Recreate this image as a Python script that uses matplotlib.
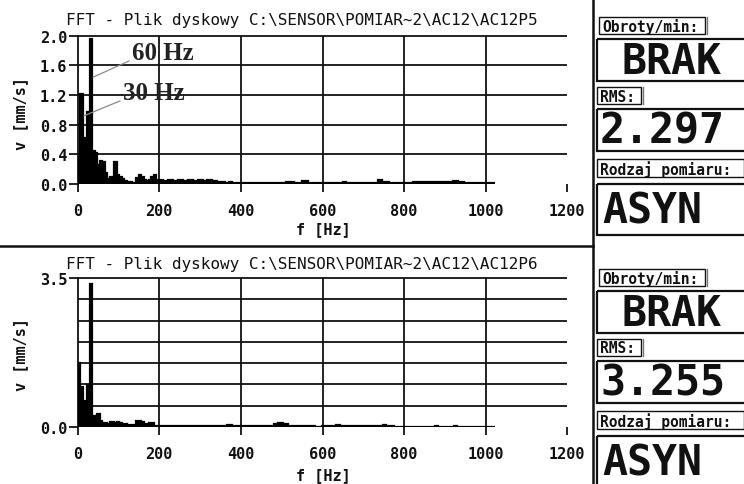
import matplotlib
matplotlib.use("Agg")
import matplotlib.pyplot as plt
from matplotlib.patches import Rectangle

# ---------------- data ----------------
top_title = r"FFT - Plik dyskowy C:\SENSOR\POMIAR~2\AC12\AC12P5"
bottom_title = r"FFT - Plik dyskowy C:\SENSOR\POMIAR~2\AC12\AC12P6"
x_label = "f [Hz]"
y_label = "v [mm/s]"
x_ticks = [0, 200, 400, 600, 800, 1000, 1200]
top_y_ticks = [0.0, 0.4, 0.8, 1.2, 1.6, 2.0]
bottom_y_ticks = [0.0, 3.5]
bottom_grid_levels = [0.5, 1.0, 1.5, 2.0, 2.5, 3.0, 3.5]

# spectrum bins: left edges (Hz, last one closes the final bin) and amplitudes (mm/s)
top_edges = [0, 6, 12, 18, 24, 30, 36, 42, 48, 54, 60, 66, 72, 78, 84, 90, 96, 102,
             108, 114, 120, 132, 144, 150, 156, 162, 168, 174, 180, 186, 192, 198,
             210, 222, 234, 246, 258, 270, 282, 294, 306, 318, 330, 342, 360, 372,
             378, 396, 420, 426, 492, 510, 530, 550, 564, 650, 657, 736, 747, 762,
             815, 823, 919, 931, 947, 1024]
top_values = [0.36, 1.21, 0.62, 0.52, 0.97, 1.96, 0.45, 0.42, 0.25, 0.31,
              0.29, 0.15, 0.07, 0.09, 0.10, 0.30, 0.12, 0.10, 0.07, 0.04,
              0.03, 0.02, 0.08, 0.12, 0.10, 0.06, 0.04, 0.06, 0.10, 0.12,
              0.06, 0.05, 0.04, 0.05, 0.04, 0.05, 0.04, 0.05, 0.04, 0.05,
              0.04, 0.05, 0.04, 0.03, 0.02, 0.03, 0.02, 0.015, 0.02, 0.015,
              0.018, 0.025, 0.015, 0.04, 0.012, 0.03, 0.008, 0.055, 0.03, 0.018,
              0.008, 0.022, 0.045, 0.028, 0.008]

bottom_edges = [0, 6, 12, 18, 24, 30, 36, 42, 48, 54, 60, 66, 72, 78, 90, 96, 102,
                108, 114, 120, 144, 156, 162, 174, 186, 198, 240, 270, 366, 378,
                460, 480, 492, 504, 516, 582, 598, 634, 642, 720, 748, 756, 776,
                876, 882, 922, 930, 1024]
bottom_values = [1.50, 0.95, 0.62, 0.55, 0.98, 3.36, 0.27, 0.15, 0.30, 0.13,
                 0.10, 0.09, 0.08, 0.12, 0.10, 0.11, 0.09, 0.07, 0.06, 0.05,
                 0.15, 0.12, 0.07, 0.10, 0.03, 0.025, 0.03, 0.035, 0.055, 0.02,
                 0.03, 0.08, 0.10, 0.08, 0.02, 0.005, 0.02, 0.05, 0.015, 0.025,
                 0.045, 0.025, 0.008, 0.015, 0.005, 0.015, 0.005]

annot_labels = ["60 Hz", "30 Hz"]
annot_targets = [(37.5, 1.44), (15.5, 0.92)]
annot_text_pos = [(133, 1.77), (111, 1.23)]

panel_labels = ["Obroty/min:", "RMS:", "Rodzaj pomiaru:"]
top_readouts = ["BRAK", "2.297", "ASYN"]
bottom_readouts = ["BRAK", "3.255", "ASYN"]

# ---------------- figure ----------------
W, H, DPI = 744, 485, 100
fig = plt.figure(figsize=(W / DPI, H / DPI), dpi=DPI)
fig.patch.set_facecolor("white")

MONO = "DejaVu Sans Mono"
INK = "#111111"

# overlay in pixel coordinates for the screen layout
ov = fig.add_axes([0, 0, 1, 1])
ov.set_xlim(0, W)
ov.set_ylim(H, 0)
ov.axis("off")
ov.patch.set_alpha(0)


def px_axes(x0, x1, y_top, y_bot):
    return fig.add_axes([x0 / W, 1 - y_bot / H, (x1 - x0) / W, (y_bot - y_top) / H])


def spectrum(ax, edges, values, ymax, yticks, grid_levels):
    ax.set_facecolor("none")
    ax.set_xlim(0, 1200)
    ax.set_ylim(0, ymax)
    for lvl in grid_levels:
        ax.hlines(lvl, 0, 1200, color=INK, lw=1.3, zorder=1, clip_on=False)
    for xv in x_ticks[1:-1]:
        ax.vlines(xv, 0, ymax, color=INK, lw=1.3, zorder=1, clip_on=False)
    ax.stairs(values, edges, fill=True, color="black", zorder=3)
    ax.stairs(values, edges, baseline=None, color="black", lw=1.6, zorder=3)
    for s in ["top", "right", "bottom"]:
        ax.spines[s].set_visible(False)
    ax.spines["left"].set_linewidth(1.3)
    ax.spines["left"].set_color(INK)
    ax.set_xticks(x_ticks)
    ax.set_xticklabels([str(t) for t in x_ticks])
    ax.set_yticks(yticks)
    ax.set_yticklabels([f"{t:.1f}" for t in yticks])
    ax.tick_params(axis="x", direction="out", length=6, width=1.3, pad=8,
                   colors=INK, labelsize=11)
    ax.tick_params(axis="y", direction="out", length=6.5, width=1.3, pad=1,
                   colors=INK, labelsize=11)
    for lab in ax.get_xticklabels() + ax.get_yticklabels():
        lab.set_fontfamily(MONO)
        lab.set_fontweight("bold")


ax1 = px_axes(77.7, 567.3, 36.7, 185)
spectrum(ax1, top_edges, top_values, 2.0, top_y_ticks, top_y_ticks[1:])
ax2 = px_axes(77.7, 567.3, 279, 428)
spectrum(ax2, bottom_edges, bottom_values, 3.5, bottom_y_ticks, bottom_grid_levels)

for lab, tgt, pos in zip(annot_labels, annot_targets, annot_text_pos):
    ax1.annotate(lab, xy=tgt, xytext=pos, ha="left", va="center",
                 fontfamily="Liberation Serif", fontweight="bold", fontsize=18,
                 color="#222222", zorder=5,
                 arrowprops=dict(arrowstyle="-", color="#8a8a8a", lw=0.9,
                                 shrinkA=0, shrinkB=0, relpos=(0.0, 0.2)))

# titles and axis labels
for title, ty, fy, vy in [(top_title, 20, 230, 113), (bottom_title, 265, 476, 355)]:
    ov.text(66, ty, title, ha="left", va="center", fontfamily=MONO, fontsize=11.5,
            color=INK)
    ov.text(323, fy, x_label, ha="center", va="center", fontfamily=MONO,
            fontsize=11, fontweight="bold", color=INK)
    ov.text(21, vy, y_label, ha="center", va="center", rotation=90,
            fontfamily=MONO, fontsize=11, fontweight="bold", color=INK)

# separators
ov.plot([0, 593], [247, 247], color=INK, lw=1.8)
ov.plot([593, 593], [0, H], color=INK, lw=1.8)


def side_panel(dy, readouts):
    # label boxes: (x0, x1, y0, y1)
    label_boxes = [(599, 705, 18, 35), (597, 641, 88, 105), (597, 744, 160, 178)]
    value_boxes = [(597, 760, 40, 82), (597, 760, 110, 152), (597, 760, 185, 236)]
    value_x = [672, 600, 602]
    value_ha = ["center", "left", "left"]
    for (x0, x1, y0, y1), lab in zip(label_boxes, panel_labels):
        ov.add_patch(Rectangle((x0, y0 + dy), x1 - x0, y1 - y0, fill=False,
                               ec=INK, lw=1.0))
        ov.plot([x1 + 1.5, x1 + 1.5], [y0 + dy, y1 + dy], color="#777777", lw=1.0)
        ov.text(x0 + 3, (y0 + y1) / 2 + dy + 0.5, lab, ha="left", va="center",
                fontfamily=MONO, fontsize=10.5, fontweight="bold", color=INK)
    for (x0, x1, y0, y1), val, vx, ha in zip(value_boxes, readouts, value_x, value_ha):
        ov.add_patch(Rectangle((x0, y0 + dy), x1 - x0, y1 - y0, fill=False,
                               ec=INK, lw=1.6, clip_on=False))
        ov.text(vx, (y0 + y1) / 2 + dy + 1, val, ha=ha, va="center",
                fontfamily=MONO, fontsize=30, fontweight="bold", color=INK)


side_panel(0, top_readouts)
side_panel(252, bottom_readouts)

fig.savefig("out.png", dpi=DPI, facecolor="white")
